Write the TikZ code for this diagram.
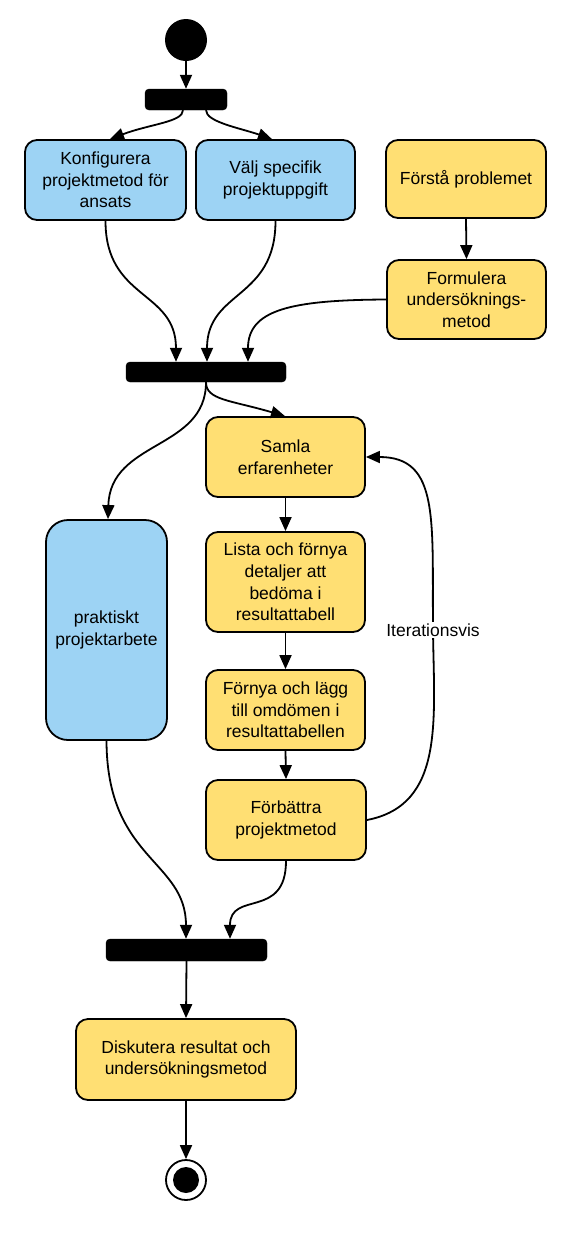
\documentclass[tikz,border=0pt]{standalone}
\usepackage{fontspec}
\setmainfont{Liberation Sans}
\usetikzlibrary{arrows.meta}
\definecolor{actblue}{RGB}{157,211,244}
\definecolor{actyellow}{RGB}{255,223,115}
\tikzset{
  x=1pt,y=1pt,
  act/.style={draw=black, line width=1.8pt, rounded corners=12pt, align=center,
    font=\fontsize{17.5}{21.6}\selectfont, inner sep=2pt},
  blueact/.style={act, fill=actblue},
  yellowact/.style={act, fill=actyellow},
  syncbar/.style={draw=black, fill=black, rounded corners=4pt, minimum height=21pt, inner sep=0pt},
  flow/.style={line width=1.8pt, -{Triangle[length=14pt,width=12pt]}},
  lbl/.style={fill=white, inner sep=2pt, font=\fontsize{17.5}{21.6}\selectfont}
}
\begin{document}
\begin{tikzpicture}
\useasboundingbox (0,0) rectangle (572,-1259);
\fill[white] (0,0) rectangle (572,-1259);

% start
\node[circle, fill=black, minimum size=42pt, inner sep=0pt] (start) at (186,-40) {};
\node[syncbar, minimum width=82pt] (bar1) at (186,-99.5) {};

\node[blueact, minimum width=161pt, minimum height=80pt] (konf) at (105.5,-180) {Konfigurera\\projektmetod för\\ansats};
\node[blueact, minimum width=159pt, minimum height=80pt] (valj) at (275.5,-180) {Välj specifik\\projektuppgift};
\node[yellowact, minimum width=160pt, minimum height=78pt] (forsta) at (466,-179) {Förstå problemet};
\node[yellowact, minimum width=159pt, minimum height=79pt] (formul) at (466.5,-299.5) {Formulera\\undersöknings-\\metod};

\node[syncbar, minimum width=160pt, minimum height=20pt] (bar2) at (206,-372) {};

\node[yellowact, minimum width=159pt, minimum height=80pt] (samla) at (285.5,-457) {Samla\\erfarenheter};
\node[yellowact, minimum width=159pt, minimum height=100pt] (lista) at (285.5,-582) {Lista och förnya\\detaljer att\\bedöma i\\resultattabell};
\node[yellowact, minimum width=159pt, minimum height=80pt] (fornya) at (285.5,-710) {Förnya och lägg\\till omdömen i\\resultattabellen};
\node[yellowact, minimum width=160pt, minimum height=80pt] (forb) at (286,-820) {Förbättra\\projektmetod};
\node[blueact, rounded corners=22pt, minimum width=121pt, minimum height=220pt] (prakt) at (106.5,-630) {praktiskt\\projektarbete};

\node[syncbar, minimum width=161pt, minimum height=22pt] (bar3) at (186.5,-950) {};
\node[yellowact, minimum width=220pt, minimum height=81pt] (disk) at (186,-1059.5) {Diskutera resultat och\\undersökningsmetod};

\node[circle, draw=black, line width=1.8pt, fill=white, minimum size=40pt, inner sep=0pt] (end) at (186,-1180) {};
\node[circle, fill=black, minimum size=26pt, inner sep=0pt] (endin) at (end.center) {};

% connectors
\draw[flow] (start.south) -- (bar1.north);
\draw[flow] ([xshift=-3pt]bar1.south) .. controls (183,-122) and (150,-124) .. ([xshift=4.5pt]konf.north);
\draw[flow] ([xshift=20pt]bar1.south) .. controls (206,-122) and (240,-128) .. ([xshift=-3.5pt]valj.north);
\draw[flow] (forsta.south) -- (formul.north);

\draw[flow] (konf.south) .. controls (105.5,-300) and (176,-290) .. ([xshift=-30pt]bar2.north);
\draw[flow] (valj.south) .. controls (275.5,-300) and (207,-290) .. ([xshift=1pt]bar2.north);
\draw[flow] (formul.west) .. controls (290,-300) and (248,-310) .. ([xshift=42pt]bar2.north);

\draw[flow] (bar2.south) .. controls (206,-400) and (230,-400) .. ([xshift=-0.5pt]samla.north);
\draw[flow] (bar2.south) .. controls (206,-450) and (110,-440) .. ([xshift=1.5pt]prakt.north);

\draw[flow] (samla.south) -- (lista.north);
\draw[flow] (lista.south) -- (fornya.north);
\draw[flow] (fornya.south) -- (forb.north);

\coordinate (itmid) at (433,-630);
\draw[line width=1.8pt] (forb.east) .. controls (445,-805) and (434,-720) .. (itmid);
\draw[flow] (itmid) .. controls (432,-520) and (440,-457) .. (samla.east);
\node[lbl] (itlbl) at (itmid) {Iterationsvis};

\draw[flow] (prakt.south) .. controls (107,-860) and (186,-860) .. ([xshift=-0.5pt]bar3.north);
\draw[flow] (forb.south) .. controls (286,-920) and (230,-890) .. ([xshift=43.5pt]bar3.north);

\draw[flow] (bar3.south) -- (disk.north);
\draw[flow] (disk.south) -- (end.north);
\end{tikzpicture}
\end{document}
